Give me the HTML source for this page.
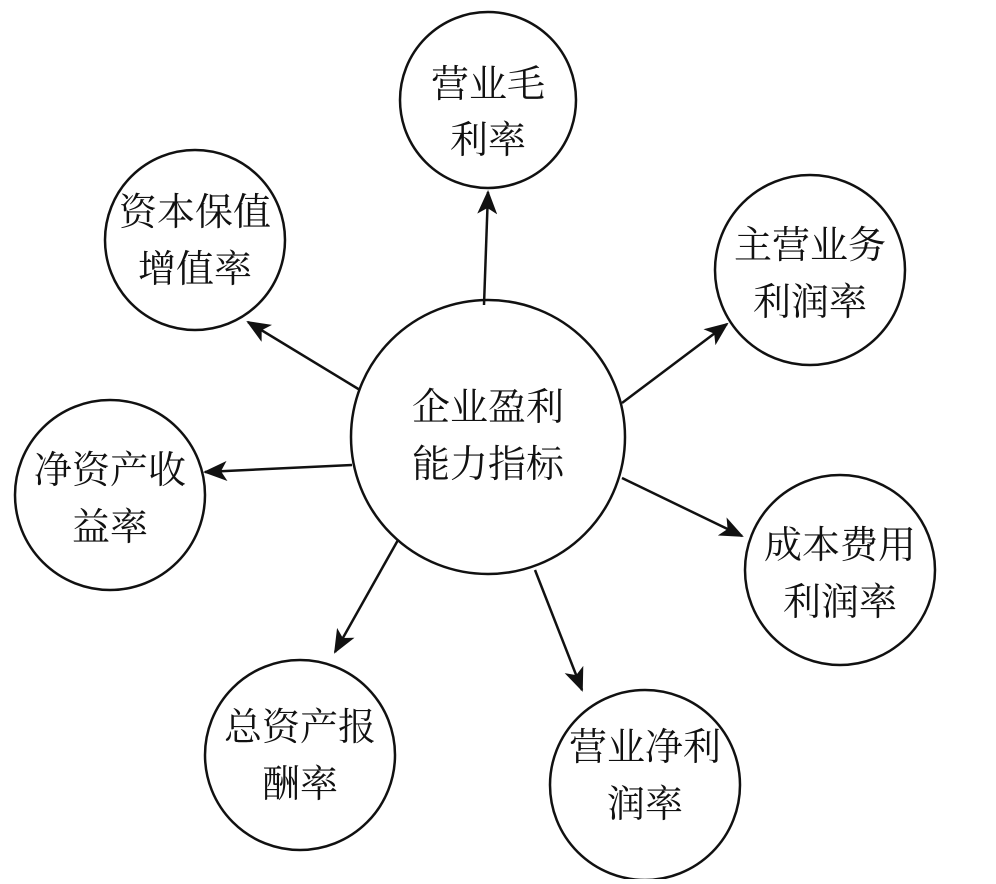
<!DOCTYPE html>
<html><head><meta charset="utf-8"><style>
html,body{margin:0;padding:0;background:#fff;}
svg text{font-family:"Liberation Serif","Noto Serif CJK SC",serif;font-size:38px;fill:#111;text-anchor:middle;}
</style></head><body>
<svg width="996" height="879" viewBox="0 0 996 879" xmlns="http://www.w3.org/2000/svg">
<defs><marker id="a" markerWidth="12" markerHeight="12" refX="11" refY="6" orient="auto" markerUnits="userSpaceOnUse"><path d="M0,0 L12,6 L0,12 L3,6 Z" fill="#111"/></marker>
<marker id="b" markerWidth="24" markerHeight="20" refX="22" refY="10" orient="auto" markerUnits="userSpaceOnUse"><path d="M0,0 L24,10 L0,20 L6,10 Z" fill="#111"/></marker></defs>
<g fill="#fff" stroke="#111" stroke-width="2.5">
<circle cx="488" cy="437" r="137"/>
<circle cx="488" cy="100" r="88"/>
<circle cx="195" cy="240" r="90"/>
<circle cx="810" cy="270" r="95"/>
<circle cx="110" cy="495" r="95"/>
<circle cx="840" cy="570" r="95"/>
<circle cx="300" cy="755" r="95"/>
<circle cx="645" cy="785" r="95"/>
</g>
<g stroke="#111" stroke-width="2.5" marker-end="url(#b)">
<line x1="484" y1="305" x2="488" y2="192"/>
<line x1="360" y1="390" x2="248" y2="322"/>
<line x1="622" y1="403" x2="727" y2="324"/>
<line x1="352" y1="465" x2="205" y2="472"/>
<line x1="622" y1="478" x2="742" y2="536"/>
<line x1="398" y1="540" x2="335" y2="652"/>
<line x1="535" y1="570" x2="582" y2="690"/>
</g>
<text x="488" y="420">企业盈利</text><text x="488" y="477">能力指标</text>
<text x="488" y="97">营业毛</text><text x="488" y="153">利率</text>
<text x="195" y="225">资本保值</text><text x="195" y="282">增值率</text>
<text x="810" y="258">主营业务</text><text x="810" y="315">利润率</text>
<text x="110" y="483">净资产收</text><text x="110" y="540">益率</text>
<text x="840" y="558">成本费用</text><text x="840" y="615">利润率</text>
<text x="300" y="740">总资产报</text><text x="300" y="797">酬率</text>
<text x="645" y="760">营业净利</text><text x="645" y="817">润率</text>
</svg>
</body></html>
